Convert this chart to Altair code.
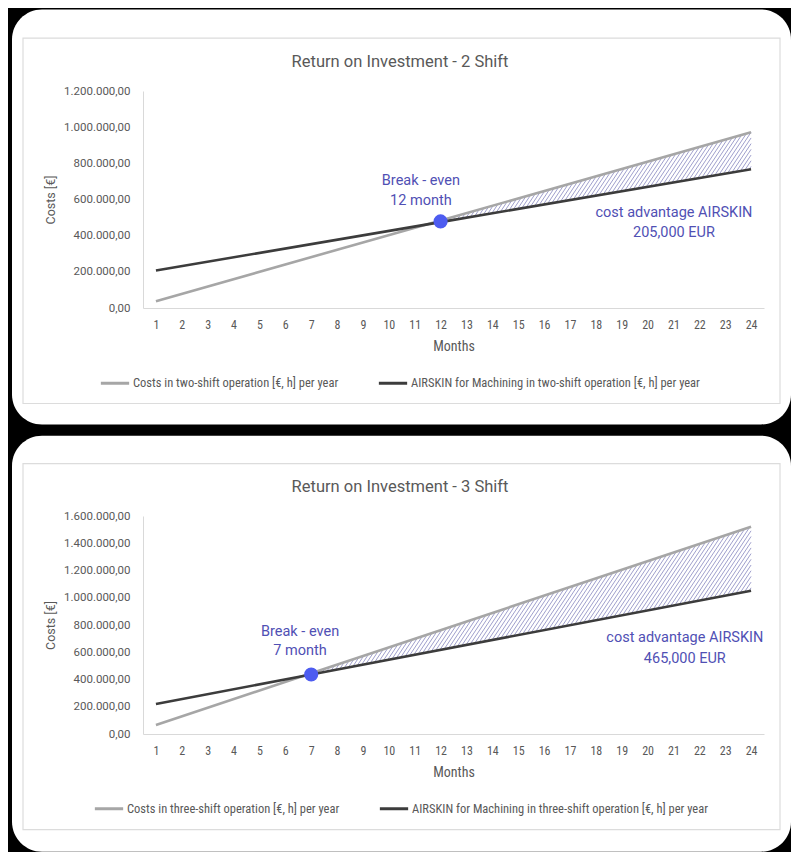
import altair as alt
import pandas as pd

# ---------------- data ----------------
months_axis = list(range(1, 25))

# 2-shift panel
title_2 = "Return on Investment - 2 Shift"
months_2 = [1, 12, 24]
costs_2 = [38000, 484000, 972000]
airskin_2 = [207000, 475000, 767000]
break_even_2 = [12, 479000]
label_costs_2 = "Costs in two-shift operation [€, h] per year"
label_air_2 = "AIRSKIN for Machining  in two-shift operation [€, h] per year"
y_ticks_2 = [0, 200000, 400000, 600000, 800000, 1000000, 1200000]
note_text_2 = ["Break - even", "12 month", "cost advantage AIRSKIN", "205,000 EUR"]
note_month_2 = [11.24, 11.24, 21.02, 21.02]
note_value_2 = [702000, 591000, 525000, 415000]

# 3-shift panel
title_3 = "Return on Investment - 3 Shift"
months_3 = [1, 7, 24]
costs_3 = [66000, 446000, 1521000]
airskin_3 = [220000, 437000, 1052000]
break_even_3 = [7, 437000]
label_costs_3 = "Costs in three-shift operation [€, h] per year"
label_air_3 = "AIRSKIN for Machining in three-shift operation [€, h] per year"
y_ticks_3 = [0, 200000, 400000, 600000, 800000, 1000000, 1200000, 1400000, 1600000]
note_text_3 = ["Break - even", "7 month", "cost advantage AIRSKIN", "465,000 EUR"]
note_month_3 = [6.57, 6.57, 21.44, 21.44]
note_value_3 = [751000, 609000, 702000, 550000]

# ---------------- style ----------------
GRAY = "#a6a6a6"
DARK = "#3c3c3c"
TXT = "#595959"
NOTE = "#5050b4"
DOT = "#4d5cf0"
INK = "#9494c6"
SANS = "Roboto"
NARROW = "Liberation Sans Narrow, Roboto Condensed, Roboto"
PW = 621  # plot width

LABEL_EXPR = ("replace(replace(replace(format(datum.value, ',.2f'), regexp(',', 'g'), '_'),"
              " regexp('\\\\.', 'g'), ','), regexp('_', 'g'), '.')")


def hatch_table(months, costs, airskin, be_month, ph, ymax, k=1.5, spacing=3.8):
    """Diagonal hatch strokes clipped to the region between the two series
    (from the break-even month to the last month)."""
    i0 = months.index(be_month)
    m0, m1 = months[i0], months[-1]
    g0, g1 = costs[i0], costs[-1]
    b0, b1 = airskin[i0], airskin[-1]
    gs = (g1 - g0) / (m1 - m0)
    bs = (b1 - b0) / (m1 - m0)
    sx = PW / 24.0
    sy = ph / ymax
    c_lo = b1 * sy - k * m1 * sx
    c_hi = max(g0, b0) * sy - k * m0 * sx
    step = k * spacing
    rows = []
    c = c_lo + step / 2
    while c < c_hi:
        mb = (c - (b0 - bs * m0) * sy) / (bs * sy - k * sx)
        mg = (c - (g0 - gs * m0) * sy) / (gs * sy - k * sx)
        ms = max(mb, m0)
        me = min(mg, m1)
        if ms < me:
            rows.append({
                "m1": ms, "v1": (k * sx * ms + c) / sy,
                "m2": me, "v2": (k * sx * me + c) / sy,
            })
        c += step
    return pd.DataFrame(rows)


def panel(title, months, costs, airskin, be, lab_c, lab_a, y_ticks, notes, ph, bg_top, bg_bottom,
          border_top, border_bottom, legend_x, legend_y):
    ymax = y_ticks[-1]

    def X(field):
        return alt.X(
            f"{field}:Q",
            title="Months",
            scale=alt.Scale(domain=[0.5, 24.5], nice=False, zero=False),
            axis=alt.Axis(
                values=months_axis, grid=False, ticks=False, tickSize=0, zindex=2,
                domainColor="#d9d9d9", domainWidth=1,
                labelFont=NARROW, labelFontSize=12, labelColor=TXT,
                labelBaseline="middle", labelPadding=16.5, labelFlush=False,
                titleFont=NARROW, titleFontSize=14, titleColor=TXT, titleFontWeight="normal",
                titleY=38, titleBaseline="middle",
            ),
        )

    def Y(field):
        return alt.Y(
            f"{field}:Q",
            title="Costs [€]",
            scale=alt.Scale(domain=[0, ymax], nice=False),
            axis=alt.Axis(
                values=y_ticks, grid=False, ticks=False, tickSize=0, zindex=2,
                domainColor="#d9d9d9", domainWidth=1,
                labelFont=SANS, labelFontSize=11.5, labelColor=TXT, labelPadding=13,
                labelExpr=LABEL_EXPR,
                titleFont=SANS, titleFontSize=12.5, titleColor=TXT, titleFontWeight="normal",
                titleX=-86, titleY=ph / 2,
            ),
        )

    one = pd.DataFrame({"k": [0]})
    bg = alt.Chart(one).mark_rect(color="white", cornerRadius=30, clip=False).encode(
        x=alt.value(-131), x2=alt.value(648), y=alt.value(bg_top), y2=alt.value(bg_bottom)
    )
    border = alt.Chart(one).mark_rect(
        fill="white", fillOpacity=0, stroke="#dcdcdc", strokeWidth=1.2, clip=False
    ).encode(x=alt.value(-120), x2=alt.value(637), y=alt.value(border_top), y2=alt.value(border_bottom))

    lines_df = pd.DataFrame(
        {"month": months + months, "value": costs + airskin,
         "series": [lab_c] * len(months) + [lab_a] * len(months)}
    )
    hatch = alt.Chart(hatch_table(months, costs, airskin, be[0], ph, ymax)).mark_rule(
        color=INK, strokeWidth=0.9
    ).encode(x=X("m1"), y=Y("v1"), x2="m2", y2="v2")

    lines = alt.Chart(lines_df).mark_line(strokeWidth=2.6).encode(
        x=X("month"),
        y=Y("value"),
        color=alt.Color(
            "series:N",
            scale=alt.Scale(domain=[lab_c, lab_a], range=[GRAY, DARK]),
            legend=alt.Legend(
                orient="none", legendX=legend_x, legendY=legend_y, direction="horizontal",
                title=None, symbolType="stroke", symbolSize=800, symbolStrokeWidth=3,
                labelFont=NARROW, labelFontSize=12.5, labelColor=TXT, labelOffset=2,
                columnPadding=33, padding=0, labelLimit=500,
            ),
        ),
    )
    dot_df = pd.DataFrame({"month": [be[0]], "value": [be[1]]})
    dot = alt.Chart(dot_df).mark_point(filled=True, size=200, color=DOT, opacity=1).encode(
        x=X("month"), y=Y("value")
    )
    notes_df = pd.DataFrame({"text": notes[0], "month": notes[1], "value": notes[2]})
    note_marks = alt.Chart(notes_df).mark_text(
        font=SANS, fontSize=14.5, color=NOTE, align="center", baseline="middle"
    ).encode(x=X("month"), y=Y("value"), text="text:N")
    ttl = alt.Chart(one).mark_text(
        font=SANS, fontSize=16.5, color=TXT, align="center", baseline="middle"
    ).encode(x=alt.value(257), y=alt.value(-29.5), text=alt.value(title))

    return alt.layer(bg, border, hatch, lines, dot, note_marks, ttl).properties(width=PW, height=ph)


top = panel(title_2, months_2, costs_2, airskin_2, break_even_2, label_costs_2, label_air_2,
            y_ticks_2, (note_text_2, note_month_2, note_value_2), 217,
            -81.5, 333.5, -52.8, 312.5, -44, 276)
bottom = panel(title_3, months_3, costs_3, airskin_3, break_even_3, label_costs_3, label_air_3,
               y_ticks_3, (note_text_3, note_month_3, note_value_3), 218,
               -80.3, 335.7, -52.3, 313.7, -50, 276.5)

chart = alt.vconcat(top, bottom, spacing=10).resolve_scale(
    x="independent", y="independent", color="independent"
).resolve_legend(color="independent").configure(
    background="black", padding={"left": 4, "top": 1, "right": 0, "bottom": 0}
).configure_view(stroke=None)

chart.save("out.html", embed_options={"renderer": "svg", "actions": False})
